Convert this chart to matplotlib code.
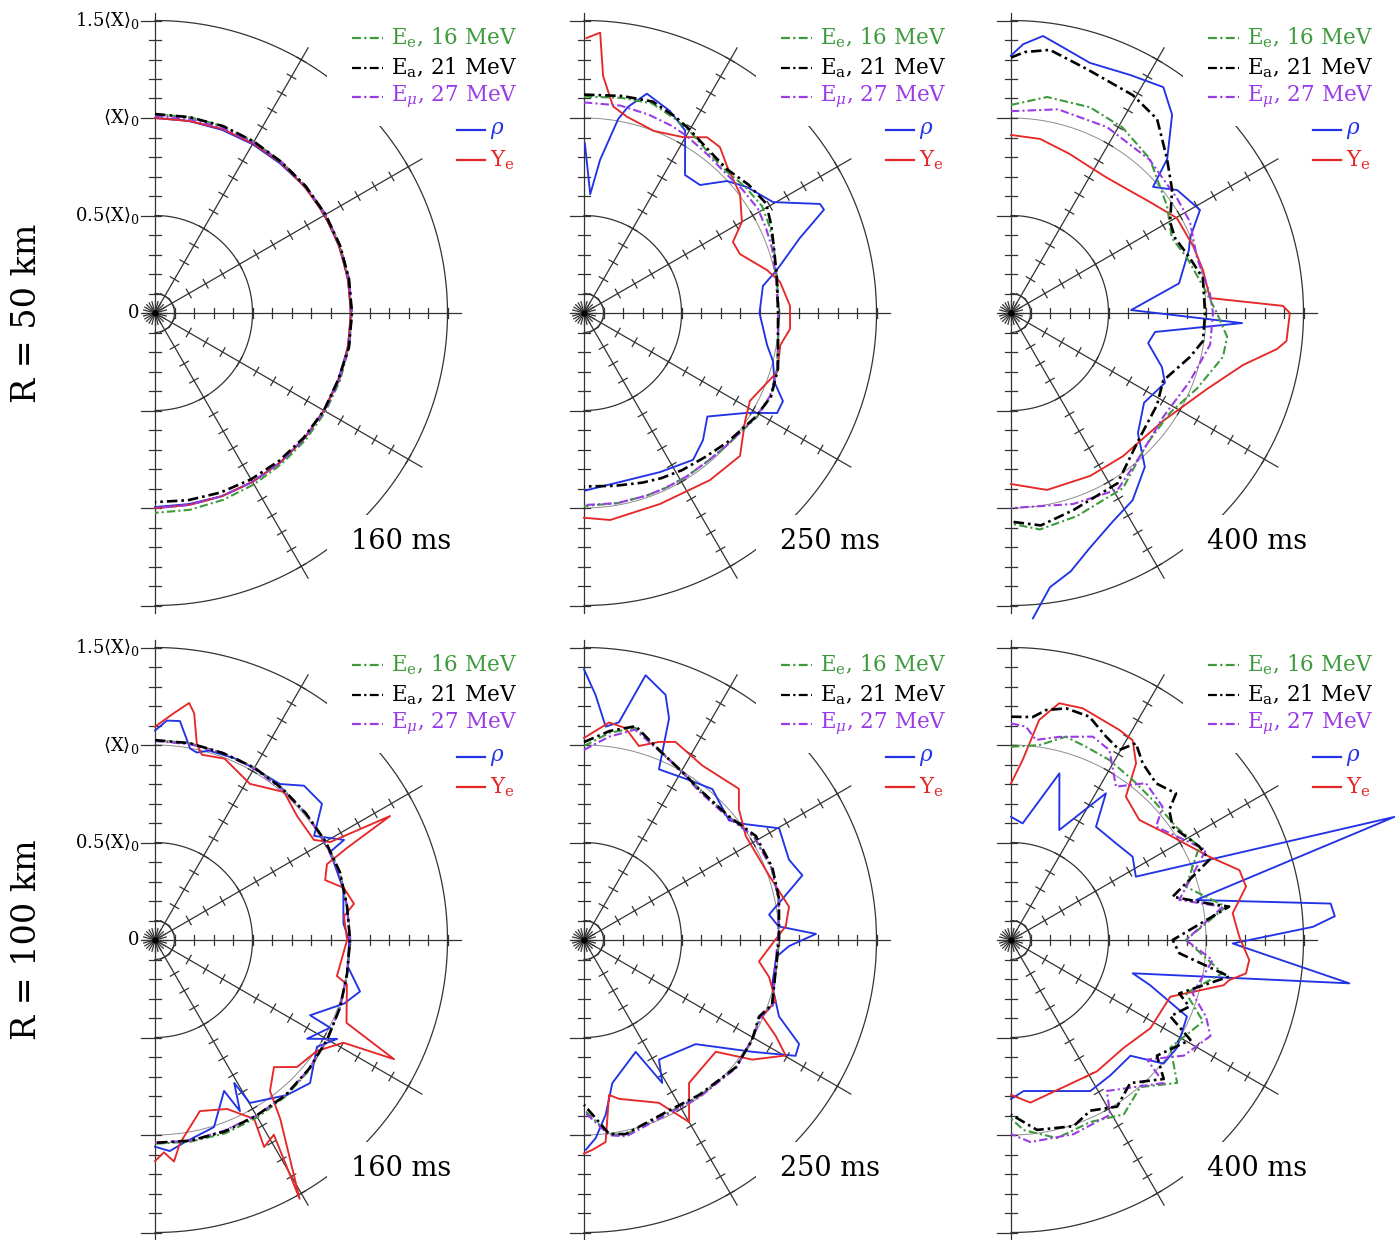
import numpy as np
import matplotlib
matplotlib.use('Agg')
import matplotlib.pyplot as plt
from matplotlib.patches import Rectangle

plt.rcParams['font.family'] = 'DejaVu Serif'
plt.rcParams['mathtext.fontset'] = 'dejavuserif'

# ---------------- data: radius (in <X>0) vs polar angle (deg) ----------------
times = ['160 ms', '250 ms', '400 ms', '160 ms', '250 ms', '400 ms']
rows = ['R = 50 km', 'R = 100 km']
leg_labels = [r'E$_\mathrm{e}$, 16 MeV', r'E$_\mathrm{a}$, 21 MeV', r'E$_\mu$, 27 MeV',
              r'$\rho$', r'Y$_\mathrm{e}$']

# panel A: R=50 km, 160 ms
A_th = [90, 80, 70, 60, 50, 40, 30, 20, 10, 0, -10, -20, -30, -40, -50, -60, -70, -80, -90]
A_ee = [1.02, 1.02, 1.02, 1.015, 1.01, 1.01, 1.01, 1.01, 1.01, 1.01, 1.01, 1.01, 1.01, 1.01, 1.01, 1.015, 1.02, 1.025, 1.025]
A_ea = [1.02, 1.02, 1.02, 1.015, 1.01, 1.01, 1.01, 1.01, 1.01, 1.01, 1.01, 1.0, 1.0, 0.995, 0.99, 0.985, 0.98, 0.975, 0.97]
A_emu = [1.01, 1.01, 1.01, 1.01, 1.01, 1.01, 1.01, 1.01, 1.01, 1.01, 1.01, 1.005, 1.005, 1.0, 1.0, 1.0, 1.0, 1.0, 1.0]
A_rho = [1.0, 1.0, 1.0, 1.0, 1.0, 1.005, 1.005, 1.005, 1.005, 1.005, 1.005, 1.0, 1.0, 1.0, 1.0, 1.0, 1.0, 0.995, 0.995]
A_ye = [1.0, 1.0, 1.005, 1.005, 1.005, 1.005, 1.005, 1.005, 1.005, 1.005, 1.005, 1.005, 1.0, 1.0, 1.0, 1.0, 1.0, 1.0, 1.0]

# panel B: R=50 km, 250 ms
B_th = [90, 80, 72, 65, 60, 52, 45, 38, 31, 25, 19, 10, 0, -10, -16, -24, -31, -42, -50, -58, -65, -71, -80, -90]
B_ea = [1.12, 1.13, 1.14, 1.11, 1.085, 1.05, 1.04, 1.07, 1.09, 1.06, 1.03, 1.005, 0.995, 1.01, 1.035, 1.05, 1.03, 0.99, 0.965, 0.95, 0.935, 0.92, 0.9, 0.89]
B_ee = [1.11, 1.12, 1.13, 1.10, 1.08, 1.04, 1.03, 1.05, 1.065, 1.05, 1.03, 1.005, 1.0, 1.01, 1.03, 1.05, 1.035, 1.0, 0.99, 0.99, 0.99, 0.99, 0.99, 0.99]
B_emu = [1.08, 1.08, 1.07, 1.06, 1.05, 1.03, 1.02, 1.03, 1.04, 1.03, 1.02, 1.0, 0.995, 1.01, 1.03, 1.045, 1.03, 1.0, 0.99, 0.99, 0.99, 0.99, 0.99, 0.985]
B_ye_th = [89.5, 86.7, 85.4, 82, 77.6, 69, 60.6, 55, 50.7, 45.6, 37.3, 30, 25.5, 20.7, 13.2, 9, 2, -4.4, -9.3, -17, -22.5, -27.9, -33.9, -42.5, -53, -68.3, -82.8, -90]
B_ye = [1.41, 1.44, 1.22, 1.07, 1.03, 1.0, 1.035, 1.10, 1.10, 1.05, 1.006, 0.935, 0.846, 0.855, 0.964, 1.018, 1.057, 1.06, 1.02, 1.036, 0.993, 0.963, 0.995, 1.085, 1.073, 1.054, 1.07, 1.05]
B_rho_th = [89.7, 87, 84, 80, 78, 74, 67, 61, 53.8, 47.8, 42.7, 37.7, 30.4, 24.8, 23.3, 19.1, 12.6, 8.6, 0, -9.9, -14.3, -20, -23.9, -27.4, -31.5, -40, -46.9, -53.4, -64.5, -78, -89.5]
B_rho = [0.87, 0.61, 0.79, 1.01, 1.08, 1.17, 1.126, 1.07, 0.877, 0.886, 0.998, 1.056, 1.124, 1.333, 1.34, 1.17, 1.014, 0.928, 0.90, 0.953, 1.0, 1.04, 1.116, 1.115, 0.98, 0.826, 0.893, 0.938, 0.904, 0.886, 0.91]

# panel C: R=50 km, 400 ms
C_ea_th = [90, 87, 81.6, 72.7, 60.8, 53, 44.6, 37.4, 29.8, 24.6, 17, 10.3, 0, -8.3, -13.8, -24, -32.2, -43.9, -58, -72.4, -82, -90]
C_ea = [1.31, 1.34, 1.364, 1.31, 1.28, 1.245, 1.124, 1.04, 0.94, 0.925, 0.96, 1.0, 0.995, 0.995, 0.945, 0.854, 0.885, 0.918, 1.03, 1.06, 1.10, 1.07]
C_ee_th = [90, 80.5, 69, 59, 48, 34.4, 25, 17.4, 8, 0, -6.3, -11.7, -22, -32, -44, -57.4, -72, -82.4, -90]
C_ee = [1.067, 1.123, 1.13, 1.11, 1.064, 0.97, 0.91, 0.946, 0.994, 1.056, 1.115, 1.11, 1.03, 0.963, 0.968, 1.066, 1.095, 1.12, 1.08]
C_emu_th = [90, 77, 62.7, 48, 34.7, 27, 16.5, 5.5, 0, -9, -20.8, -34.4, -48, -58.8, -72, -90]
C_emu = [1.035, 1.072, 1.073, 1.06, 1.035, 1.03, 0.995, 1.025, 1.036, 1.034, 0.982, 0.945, 0.988, 1.058, 1.03, 1.0]
C_ye_th = [90, 80.5, 70, 61.6, 55, 48.4, 38.6, 29.8, 20.2, 12.6, 4.3, 1.5, 0, -5.8, -7.7, -12.6, -21.2, -35.4, -52, -64, -78.5, -90]
C_ye = [0.913, 0.905, 0.87, 0.851, 0.85, 0.865, 0.912, 0.98, 0.995, 1.009, 1.023, 1.395, 1.43, 1.42, 1.377, 1.22, 1.078, 0.956, 0.932, 0.929, 0.926, 0.877]
C_rho_th = [90, 87.4, 83.4, 80.3, 72.5, 63.4, 56, 50.9, 44.6, 41.6, 36.5, 28.6, 22.7, 19.5, 10, 1.4, -2.5, -7.5, -12.4, -19.7, -24.4, -34, -43.4, -49, -57, -64, -71.4, -77, -81.9, -85.9]
C_rho = [1.32, 1.38, 1.43, 1.40, 1.345, 1.365, 1.397, 1.31, 1.125, 0.974, 1.06, 1.104, 0.995, 0.968, 0.875, 0.616, 1.186, 0.745, 0.72, 0.822, 0.867, 0.823, 0.896, 1.046, 1.145, 1.19, 1.27, 1.36, 1.42, 1.57]

# panel D: R=100 km, 160 ms
D_th = [90, 80, 70, 60, 50, 40, 30, 20, 10, 0, -10, -20, -30, -40, -50, -60, -70, -80, -90]
D_ee = [1.025, 1.025, 1.02, 1.02, 1.015, 1.01, 1.01, 1.01, 1.0, 1.0, 1.0, 1.01, 1.02, 1.035, 1.045, 1.05, 1.055, 1.05, 1.045]
D_ea = [1.025, 1.025, 1.02, 1.02, 1.015, 1.01, 1.01, 1.01, 1.0, 1.0, 1.0, 1.01, 1.02, 1.03, 1.04, 1.04, 1.045, 1.045, 1.04]
D_emu = [1.02, 1.02, 1.02, 1.015, 1.01, 1.01, 1.005, 1.005, 1.0, 1.0, 1.0, 1.01, 1.02, 1.03, 1.04, 1.04, 1.04, 1.045, 1.04]
D_ye_th = [90, 85.2, 81.8, 80.2, 77.9, 75.8, 69, 58.7, 48.9, 41.1, 32.2, 29.2, 27.8, 25.6, 23.8, 19.4, 15.4, 10.3, 7.2, 0, -11.2, -13, -23.4, -26.5, -28.6, -34.4, -41.8, -46.9, -52.7, -55, -60.8, -58.6, -62.2, -61, -66.9, -75.3, -83, -85.1, -87.6, -90]
D_ye = [1.094, 1.168, 1.228, 1.18, 1.025, 0.98, 0.996, 0.937, 1.007, 0.967, 0.963, 1.029, 1.363, 1.09, 0.964, 0.925, 1.005, 1.037, 0.977, 0.985, 0.951, 1.01, 1.07, 1.37, 1.10, 1.007, 0.977, 0.893, 0.973, 1.12, 1.52, 1.17, 1.20, 1.049, 0.942, 0.907, 1.05, 1.14, 1.09, 1.134]
D_rho_th = [90, 86.9, 83.5, 79.6, 77.4, 74, 65, 51.3, 46, 39.2, 33.2, 27.9, 26.7, 15, 5, 0, -8, -14.1, -18.6, -25.9, -26.6, -33, -28.5, -33.4, -42.7, -49.6, -59.8, -61, -63.6, -65.4, -72.5, -81.9, -86, -90]
D_rho = [1.074, 1.127, 1.13, 0.998, 0.985, 1.01, 1.02, 1.025, 1.10, 1.105, 0.975, 1.097, 1.005, 1.0, 0.97, 0.995, 1.0, 1.084, 1.023, 0.884, 1.004, 0.93, 1.063, 0.995, 1.082, 1.044, 0.967, 0.838, 0.98, 0.851, 1.006, 1.05, 1.085, 1.06]

# panel E: R=100 km, 250 ms
E_th = [90, 83, 76.4, 68.5, 60, 52.7, 40.4, 31.2, 21, 11.9, 0.6, -8.7, -19, -23.6, -30.8, -40, -53.4, -63.5, -77.9, -82.6, -90]
E_ea = [1.015, 1.08, 1.128, 1.048, 1.0, 0.973, 0.977, 1.03, 1.035, 1.022, 1.0, 0.995, 1.02, 0.98, 1.003, 1.016, 0.99, 0.977, 1.018, 1.003, 0.845]
E_ee = [0.995, 1.07, 1.12, 1.05, 1.0, 0.975, 0.975, 1.02, 1.03, 1.02, 1.0, 0.995, 1.02, 0.985, 1.005, 1.015, 0.995, 0.985, 1.02, 1.005, 0.87]
E_emu = [0.975, 1.05, 1.11, 1.045, 1.0, 0.965, 0.97, 1.02, 1.03, 1.02, 0.995, 0.99, 1.025, 0.99, 1.0, 1.02, 1.0, 0.99, 1.03, 1.01, 0.88]
E_ye_th = [90, 83.4, 78.9, 74.2, 69.3, 65.2, 55.9, 44.3, 40.2, 32.7, 19.3, 9.2, 3.9, 0, -7, -11.3, -17.6, -23.2, -26.6, -29.8, -35.4, -40.3, -47.1, -53.7, -60, -65.3, -77.6, -80.8, -83.9, -87.7, -90]
E_ye = [1.036, 1.123, 1.107, 1.034, 1.086, 1.119, 1.081, 1.11, 1.04, 0.986, 1.005, 1.065, 1.037, 0.98, 0.904, 0.968, 1.031, 0.995, 1.10, 1.192, 1.059, 0.886, 0.892, 0.91, 1.078, 0.919, 0.834, 0.805, 1.042, 1.077, 1.095]
E_rho_th = [90, 87.3, 84.2, 80.9, 76.9, 71.6, 69, 66.3, 55.7, 49.6, 39.5, 35.6, 29.8, 21.4, 16.5, 13.4, 7.8, 4, 1.5, -1.7, -5, -13.5, -21.4, -25.8, -28.7, -33.6, -43, -57.9, -61.3, -65.2, -78.8, -82.9, -86.6, -89.5]
E_rho = [1.388, 1.258, 1.1, 1.13, 1.394, 1.325, 1.217, 0.956, 0.986, 1.016, 0.964, 1.02, 1.153, 1.129, 1.168, 1.081, 0.958, 1.0, 1.19, 1.052, 0.99, 0.992, 1.074, 1.225, 1.237, 1.036, 0.783, 0.724, 0.836, 0.632, 0.748, 0.902, 1.017, 1.076]

# panel F: R=100 km, 400 ms
F_ea_th = [90, 84.4, 81.3, 76.6, 70.7, 64.9, 60.3, 57.6, 53.3, 47.2, 41.6, 39.4, 35, 26.4, 22, 15, 10.7, 8.7, 0, -4.5, -9.5, -13.9, -17.6, -20.5, -25.6, -29.1, -38.4, -42.3, -50.2, -57.5, -65.1, -71.4, -82.2, -90]
F_ea = [1.145, 1.149, 1.193, 1.221, 1.214, 1.151, 1.122, 1.195, 1.13, 1.095, 1.132, 1.05, 1.012, 1.078, 1.097, 0.858, 1.018, 1.132, 0.829, 0.866, 1.135, 0.995, 0.905, 0.976, 0.906, 1.053, 0.955, 1.059, 0.955, 1.013, 0.965, 1.007, 0.983, 0.895]
F_ee_th = [90, 81.7, 74.9, 68.8, 61.4, 52.7, 43.3, 34.5, 26.4, 16.9, 8.8, 0, -8.9, -16.9, -23, -34, -40.7, -48.7, -57.1, -66.5, -76.9, -86.2, -90]
F_ee = [0.991, 1.01, 1.08, 1.063, 1.052, 1.031, 1.022, 1.026, 1.078, 0.938, 1.116, 0.897, 1.099, 0.938, 1.07, 0.986, 1.124, 1.004, 1.065, 1.018, 1.043, 0.977, 0.915]
F_emu_th = [90, 86, 82.9, 76.6, 68.1, 62.6, 55.6, 49.3, 41.3, 38, 24.8, 13.4, 8.9, 0, -5.7, -16.4, -21.5, -25.7, -33.8, -41.3, -43.1, -57.6, -60.4, -72.1, -84.5, -90]
F_emu = [1.111, 1.097, 1.034, 1.071, 1.124, 1.097, 0.953, 1.061, 1.035, 0.944, 1.101, 0.887, 1.099, 0.897, 1.039, 0.971, 1.075, 1.135, 1.066, 0.929, 1.073, 0.917, 1.03, 1.046, 1.041, 0.995]
F_ye_th = [90, 86.3, 82.7, 78.5, 72.8, 62.7, 58.7, 54.7, 51.3, 43.1, 34.5, 22.8, 17, 12.8, 6.9, 0.8, -4.8, -8.1, -10.4, -12, -19.6, -32.3, -43.7, -56.8, -70.3, -83.2, -90]
F_ye = [0.803, 0.925, 1.138, 1.239, 1.244, 1.212, 1.2, 1.11, 0.942, 0.901, 0.965, 1.103, 1.225, 1.236, 1.145, 1.171, 1.226, 1.217, 1.138, 1.115, 0.867, 0.846, 0.8, 0.805, 0.801, 0.84, 0.794]
F_rho_th = [90, 84.3, 73.8, 66.3, 57.1, 53.1, 42.6, 34.4, 26.9, 17.8, 12.2, 6.5, 4.2, 2.5, -0.9, -7.3, -15.3, -18, -23.5, -33, -39, -44.1, -53.7, -62.3, -73, -85.2, -90]
F_rho = [0.632, 0.601, 0.89, 0.616, 0.896, 0.726, 0.732, 0.756, 0.718, 2.065, 0.971, 1.65, 1.665, 1.55, 1.137, 1.749, 0.647, 0.75, 0.984, 1.015, 1.007, 0.853, 0.861, 0.875, 0.81, 0.777, 0.815]

panels = [
    [(A_th, A_ee), (A_th, A_ea), (A_th, A_emu), (A_th, A_rho), (A_th, A_ye)],
    [(B_th, B_ee), (B_th, B_ea), (B_th, B_emu), (B_rho_th, B_rho), (B_ye_th, B_ye)],
    [(C_ee_th, C_ee), (C_ea_th, C_ea), (C_emu_th, C_emu), (C_rho_th, C_rho), (C_ye_th, C_ye)],
    [(D_th, D_ee), (D_th, D_ea), (D_th, D_emu), (D_rho_th, D_rho), (D_ye_th, D_ye)],
    [(E_th, E_ee), (E_th, E_ea), (E_th, E_emu), (E_rho_th, E_rho), (E_ye_th, E_ye)],
    [(F_ee_th, F_ee), (F_ea_th, F_ea), (F_emu_th, F_emu), (F_rho_th, F_rho), (F_ye_th, F_ye)],
]

# ---------------- layout / styles ----------------
W, H = 1395, 1240
SCALE = 195.0     # pixels per <X>0
RMAX = 1.6
centers = [(155, 313), (584, 313), (1011, 313), (155, 940), (584, 940), (1011, 940)]

GREEN, PURPLE, BLUE, RED = '#3d9a3d', '#9a3ce6', '#2233e6', '#e62828'
DASH = (4, 1.5, 1, 1.5)
styles = [dict(color=GREEN, lw=1.5, dashes=DASH),
          dict(color='black', lw=1.9, dashes=DASH),
          dict(color=PURPLE, lw=1.5, dashes=DASH),
          dict(color=BLUE, lw=1.35),
          dict(color=RED, lw=1.35)]
leg_colors = [GREEN, 'black', PURPLE, BLUE, RED]
draw_order = [3, 4, 0, 2, 1]
GRID = dict(color='#333333', lw=0.9, zorder=1, clip_on=False)

fig = plt.figure(figsize=(W / 100, H / 100), dpi=100)


def polar_xy(th_deg, r):
    t = np.deg2rad(np.asarray(th_deg, float))
    r = np.asarray(r, float)
    return r * np.cos(t), r * np.sin(t)


def spoke_tick(ax, a, rr, d):
    c, s = np.cos(np.deg2rad(a)), np.sin(np.deg2rad(a))
    ax.plot([rr * c - d * s, rr * c + d * s], [rr * s + d * c, rr * s - d * c], **GRID)


def frame(ax):
    t = np.linspace(-90, 90, 361)
    for rr in (0.1, 0.5, 1.5):
        ax.plot(*polar_xy(t, np.full_like(t, rr)), **GRID)
    ax.plot(*polar_xy(t, np.ones_like(t)), color='0.55', lw=0.7, zorder=1, clip_on=False)
    ax.plot([0, 0], [-1.54, 1.54], **GRID)
    for a, L in ((0, 1.57), (30, 1.58), (-30, 1.58), (60, 1.57), (-60, 1.57)):
        ax.plot(*polar_xy([a, a], [0, L]), **GRID)
        for rr in np.arange(1, 16) / 10:
            spoke_tick(ax, a, rr, 0.025)
    for k in range(-15, 16):
        left = 0.07 if k % 5 == 0 else 0.03
        ax.plot([-left, 0.03], [k / 10, k / 10], **GRID)
    for a in range(0, 360, 15):
        ax.plot(*polar_xy([a, a], [0, 0.06]), **GRID)
    ax.plot([0], [0], 'o', ms=3.5, color='black', zorder=1, clip_on=False)


for i, (cx, cy) in enumerate(centers):
    w = RMAX * SCALE
    ax = fig.add_axes([cx / W, (H - cy - w) / H, w / W, 2 * w / H])
    ax.set_xlim(0, RMAX)
    ax.set_ylim(-RMAX, RMAX)
    ax.axis('off')
    frame(ax)

    for j in draw_order:
        th, r = panels[i][j]
        ax.plot(*polar_xy(th, r), zorder=3, clip_on=False, **styles[j])

    # white boxes behind legend and time label
    for (x0, y0, x1, y1) in ((0.88, 0.96, 1.95, 1.52), (1.5, 0.70, 1.95, 1.0), (0.88, -1.31, 1.62, -1.035)):
        ax.add_patch(Rectangle((x0, y0), x1 - x0, y1 - y0, fc='white', ec='none',
                               zorder=2, clip_on=False))

    # legend
    for j, yy in enumerate((1.41, 1.256, 1.108, 0.938, 0.785)):
        if j < 3:
            xl0, xl1, xt = 1.01, 1.17, 1.21
        else:
            xl0, xl1, xt = 1.55, 1.69, 1.72
        st = {k: v for k, v in styles[j].items() if k != 'lw'}
        ax.plot([xl0, xl1], [yy, yy], clip_on=False, zorder=4, lw=1.6, **st)
        ax.text(xt, yy, leg_labels[j], color=leg_colors[j], fontsize=15.5,
                ha='left', va='center', zorder=4)

    ax.text(1.26, -1.17, times[i], fontsize=19.5, ha='center', va='center', zorder=4)

    if i % 3 == 0:
        for val, lab in ((1.5, r'1.5$\langle\mathrm{X}\rangle_0$'), (1.0, r'$\langle\mathrm{X}\rangle_0$'),
                         (0.5, r'0.5$\langle\mathrm{X}\rangle_0$'), (0.0, '0')):
            ax.annotate(lab, xy=(0, val), xytext=(-11, 0), textcoords='offset points',
                        ha='right', va='center', fontsize=13, annotation_clip=False)

for k, cy in enumerate((313, 940)):
    fig.text(27 / W, 1 - cy / H, rows[k], rotation=90, ha='center', va='center', fontsize=24)

fig.savefig('out.png', dpi=100)
